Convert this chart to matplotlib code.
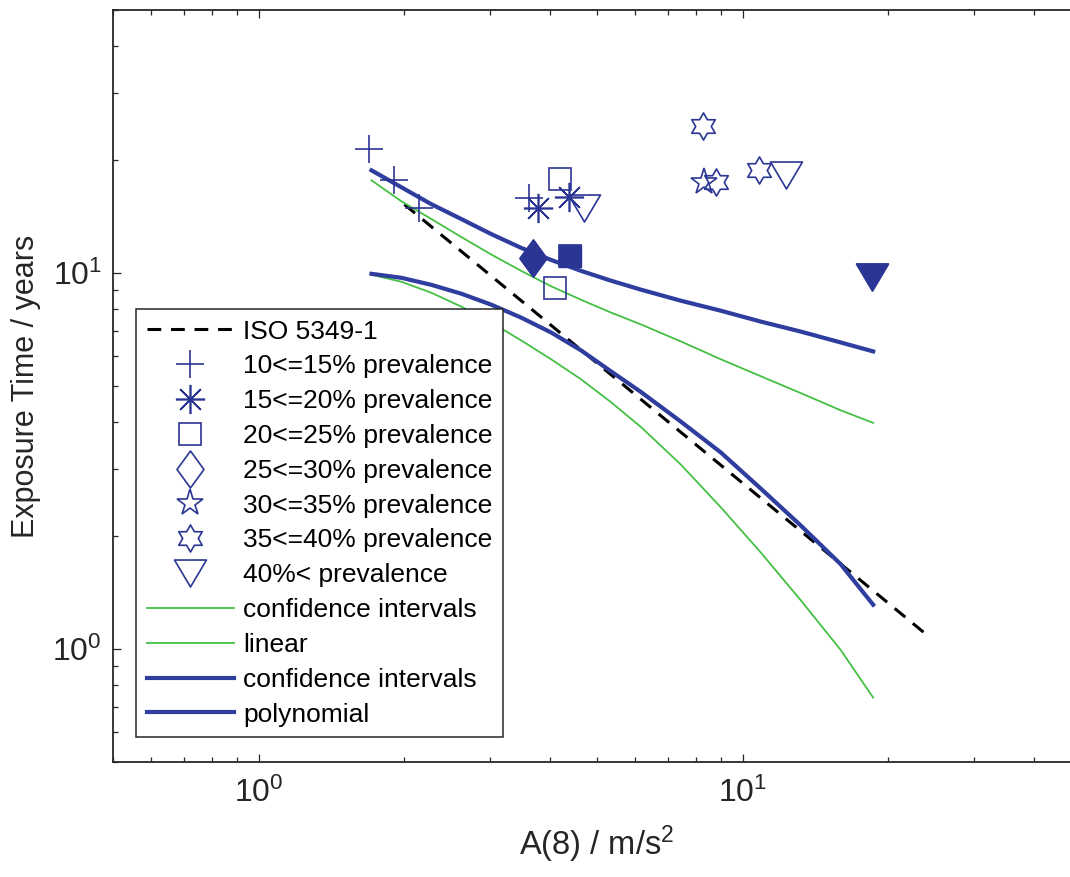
import matplotlib
matplotlib.use('Agg')
import matplotlib.pyplot as plt
from matplotlib.path import Path

plt.rcParams['font.family'] = ['Liberation Sans', 'DejaVu Sans']
plt.rcParams['mathtext.default'] = 'regular'

# ISO 5349-1 reference line (end points)
iso_x = [2.0, 24.2]
iso_y = [15.2, 1.08]

# prevalence groups
plus_x = [1.69, 1.90, 2.14, 3.62]
plus_y = [21.4, 17.7, 14.9, 15.8]
ast_x = [3.78, 4.38]
ast_y = [14.9, 15.9]
sq_x = [4.20, 4.10, 4.40]
sq_y = [17.8, 9.13, 11.1]
dia_x = [3.69]
dia_y = [10.96]
pent_x = [8.31]
pent_y = [17.4]
hexa_x = [8.27, 8.80, 10.8]
hexa_y = [24.5, 17.4, 18.8]
tri_x = [4.70, 12.3, 18.5]
tri_y = [14.9, 18.2, 9.76]

# highlighted (filled) points
fd_x, fd_y = [3.69], [10.96]
fs_x, fs_y = [4.40], [11.1]
ft_x, ft_y = [18.5], [9.76]

fit_x = [1.71, 1.971, 2.274, 2.622, 3.022, 3.486, 4.019, 4.634,
         5.343, 6.163, 7.451, 9.008, 10.89, 13.17, 15.93, 18.6]
# linear fit (green)
lin_y = [17.62, 15.50, 13.90, 12.45, 11.19, 10.12, 9.21, 8.48,
         7.84, 7.29, 6.57, 5.89, 5.31, 4.79, 4.31, 3.99]
lin_ci_y = [9.88, 9.47, 8.85, 8.13, 7.38, 6.61, 5.89, 5.21,
            4.53, 3.89, 3.09, 2.38, 1.806, 1.348, 0.994, 0.742]
# polynomial fit (blue)
poly_y = [18.73, 16.89, 15.22, 13.90, 12.68, 11.65, 10.82, 10.12,
          9.53, 9.02, 8.43, 7.93, 7.42, 6.98, 6.53, 6.18]
poly_ci_y = [9.94, 9.70, 9.29, 8.80, 8.23, 7.60, 6.94, 6.22,
             5.47, 4.82, 4.02, 3.33, 2.67, 2.13, 1.68, 1.31]

mk = '#2B3593'
blue = '#2E3D9E'
green = '#44C044'

tri_marker = Path([(-16, 13.5), (16, 13.5), (0, -13.5), (-16, 13.5)],
                  [Path.MOVETO, Path.LINETO, Path.LINETO, Path.CLOSEPOLY])
dia_marker = Path([(0, 18.5), (13.5, 0), (0, -18.5), (-13.5, 0), (0, 18.5)],
                  [Path.MOVETO, Path.LINETO, Path.LINETO, Path.LINETO, Path.CLOSEPOLY])
hex_marker = Path.unit_regular_star(6, 0.577)

fig = plt.figure(figsize=(10.70, 8.77), dpi=100)
ax = fig.add_axes([0.1056, 0.1311, 0.9047, 0.8575])
ax.set_xscale('log')
ax.set_yscale('log')

h_iso, = ax.plot(iso_x, iso_y, color='black', lw=2.2, ls=(0, (4.5, 3.2)), label='ISO 5349-1')
h_lci, = ax.plot(fit_x, lin_ci_y, color=green, lw=1.3, label='confidence intervals')
h_lin, = ax.plot(fit_x, lin_y, color=green, lw=1.3, label='linear')
h_pci, = ax.plot(fit_x, poly_ci_y, color=blue, lw=3, label='confidence intervals')
h_pol, = ax.plot(fit_x, poly_y, color=blue, lw=3, label='polynomial')

open_kw = dict(ls='none', color=mk, mfc='none', mew=1.2)
h1, = ax.plot(plus_x, plus_y, marker='+', ms=19.5, label='10<=15% prevalence', **open_kw)
h2, = ax.plot(ast_x, ast_y, marker=(8, 2, 0), ms=21, label='15<=20% prevalence', **open_kw)
h3, = ax.plot(sq_x, sq_y, marker='s', ms=16, label='20<=25% prevalence', **open_kw)
h4, = ax.plot(dia_x, dia_y, marker=dia_marker, ms=26.6, label='25<=30% prevalence', **open_kw)
h5, = ax.plot(pent_x, pent_y, marker='*', ms=20, label='30<=35% prevalence', **open_kw)
h6, = ax.plot(hexa_x, hexa_y, marker=hex_marker, ms=19.5, label='35<=40% prevalence', **open_kw)
h7, = ax.plot(tri_x, tri_y, marker=tri_marker, ms=23, label='40%< prevalence', **open_kw)

ax.plot(fd_x, fd_y, ls='none', marker=dia_marker, ms=26.6, color=mk, mec=mk)
ax.plot(fs_x, fs_y, ls='none', marker='s', ms=16, color=mk, mec=mk)
ax.plot(ft_x, ft_y, ls='none', marker=tri_marker, ms=23, color=mk, mec=mk)

ax.set_xlim(0.5, 50)
ax.set_ylim(0.5, 50)

ax.tick_params(which='both', direction='in', top=True, right=True, width=0.9, colors='#262626')
ax.tick_params(which='major', length=6, labelsize=23, pad=11)
ax.tick_params(axis='y', which='major', pad=8)
ax.tick_params(which='minor', length=3.5)
for s in ax.spines.values():
    s.set_linewidth(1.3)
    s.set_color('#262626')

ax.set_xlabel('A(8) / m/s$^2$', fontsize=23.5, labelpad=11, color='#262626')
ax.set_ylabel('Exposure Time / years', fontsize=22, labelpad=8, color='#262626')

handles = [h_iso, h1, h2, h3, h4, h5, h6, h7, h_lci, h_lin, h_pci, h_pol]
leg = ax.legend(handles=handles, loc='upper left', bbox_to_anchor=(0.0238, 0.6024),
                borderaxespad=0, fontsize=19, frameon=True, fancybox=False,
                framealpha=1, edgecolor='#262626', handlelength=3.3,
                handletextpad=0.35, labelspacing=0.41, borderpad=0.4)
leg.get_frame().set_linewidth(1.1)

fig.savefig('out.png', dpi=100)
